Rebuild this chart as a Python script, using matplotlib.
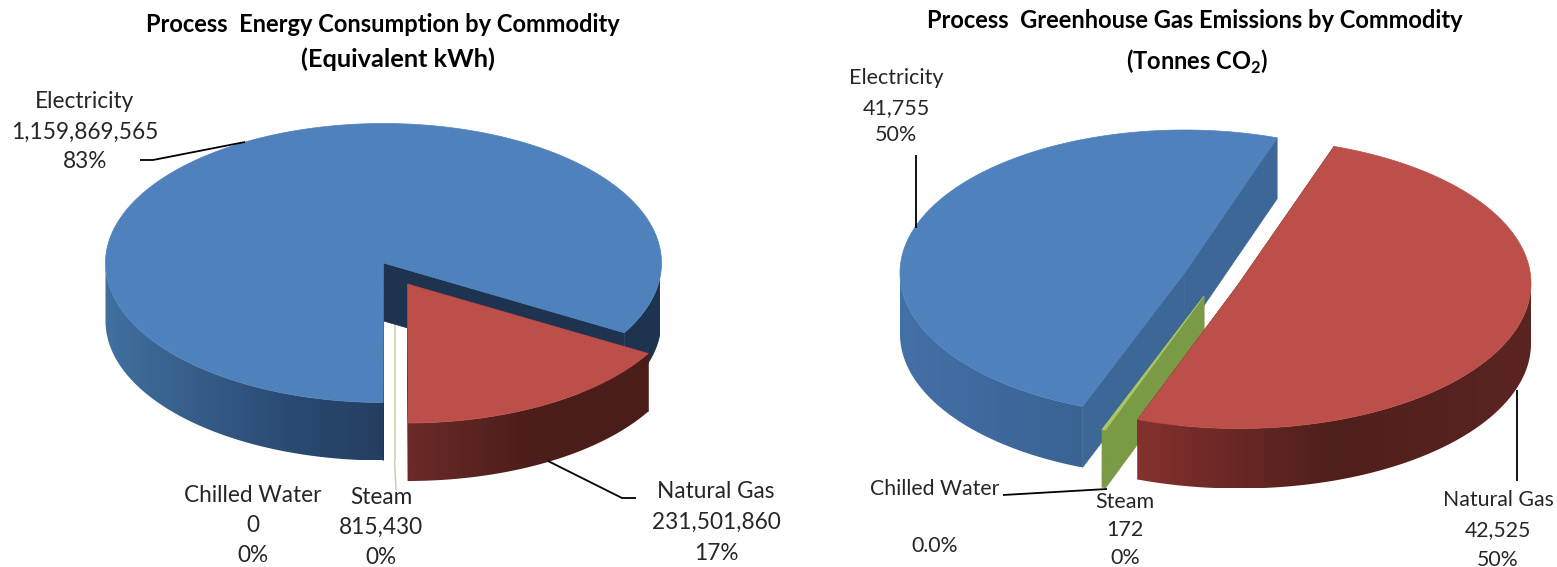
import numpy as np
import matplotlib
matplotlib.use("Agg")
import matplotlib.pyplot as plt
from matplotlib.colors import LinearSegmentedColormap
from matplotlib.patches import Polygon

plt.rcParams['font.family'] = ['Lato', 'DejaVu Sans']
plt.rcParams['mathtext.fontset'] = 'custom'
plt.rcParams['mathtext.bf'] = 'Lato:bold'
plt.rcParams['mathtext.rm'] = 'Lato'

commodities = ["Electricity", "Natural Gas", "Steam", "Chilled Water"]
energy_kwh = [1159869565, 231501860, 815430, 0]
energy_pct = ["83%", "17%", "0%", "0%"]
emissions_t = [41755, 42525, 172, 0]
emissions_pct = ["50%", "50%", "0%", "0.0%"]

TEXT = "#262626"


def slice_angles(values, start):
    """ clockwise from start, electricity wraps round to finish at start """
    total = sum(values)
    spans = [360.0 * v / total for v in values]
    angles = {}
    a = start
    for idx in [1, 2, 3, 0]:
        angles[idx] = (a - spans[idx], a)
        a -= spans[idx]
    return angles


def rim(cx, cy, rx, ry, t):
    t = np.radians(t)
    return cx + rx * np.cos(t), cy - ry * np.sin(t)


def draw_wall(ax, t0, t1, cx, cy, rx, ry, depth, cmap, wall_x, z):
    # one continuous run of the front wall, gradient image clipped to it
    ts = np.linspace(t0, t1, max(int((t1 - t0) * 2), 2) + 1)
    xs, ys = rim(cx, cy, rx, ry, ts)
    outline = list(zip(xs, ys)) + list(zip(xs[::-1], ys[::-1] + depth))
    clip = Polygon(outline, transform=ax.transData, fc='none', ec='none')
    grad = np.linspace(0, 1, 256).reshape(1, -1)
    im = ax.imshow(grad, extent=(wall_x[0], wall_x[1], ys.max() + depth, ys.min()),
                   aspect='auto', cmap=cmap, vmin=0, vmax=1, zorder=z, interpolation='bilinear')
    im.set_clip_path(clip)


def draw_slice(ax, a0, a1, cx, cy, rx, ry, depth, top, cut, wall, wall_x, z):
    # cut faces first, the wall and top then paint over the hidden parts
    for a in (a0, a1):
        x, y = rim(cx, cy, rx, ry, a)
        ax.add_patch(Polygon([(cx, cy), (x, y), (x, y + depth), (cx, cy + depth)],
                             fc=cut, ec=cut, lw=0.5, zorder=z))
    cmap = LinearSegmentedColormap.from_list("w", wall)
    # walls only show where the rim faces the viewer, 180 to 360 degrees
    for k in (-2, -1, 0, 1):
        t0 = max(a0, 180 + 360 * k)
        t1 = min(a1, 360 + 360 * k)
        if t1 > t0:
            draw_wall(ax, t0, t1, cx, cy, rx, ry, depth, cmap, wall_x, z + 0.1)
    ts = np.linspace(a0, a1, max(int((a1 - a0) * 2), 2) + 1)
    xs, ys = rim(cx, cy, rx, ry, ts)
    pts = [(cx, cy)] + list(zip(xs, ys))
    ax.add_patch(Polygon(pts, fc=top, ec=top, lw=0.5, zorder=z + 0.2))


def label(ax, x, ys, lines, size):
    for y, line in zip(ys, lines):
        ax.text(x, y, line, ha='center', va='center', fontsize=size, color=TEXT, zorder=10)


def leader(ax, xs, ys, color='black', lw=1.3, z=9):
    ax.plot(xs, ys, color=color, lw=lw, solid_capstyle='butt', zorder=z)


fig = plt.figure(figsize=(15.57, 5.67), dpi=100)
ax = fig.add_axes([0, 0, 1, 1])

# left pie, energy
ang = slice_angles(energy_kwh, -30)
navy = "#1d3350"
draw_slice(ax, *ang[2], 395, 262, 278, 140, 58, "#d5dcbc", "#d5dcbc", ["#d5dcbc", "#d5dcbc"], (300, 500), 1)
draw_slice(ax, *ang[0], 383.5, 263, 278, 139.5, 58, "#4f81bd", navy,
           ["#41709f", "#2a4a72", navy, navy], (105, 660), 2)
draw_slice(ax, *ang[1], 407.5, 284, 278, 139, 58, "#bd4f4b", "#4a1c1a",
           ["#6d2c29", "#4d1e1b", "#4a1c1a"], (400, 650), 3)
leader(ax, [394.5, 396], [460, 490], color="#c3cda6", lw=1.0, z=1)

leader(ax, [140, 153, 245], [160, 160, 142])
leader(ax, [548, 622, 636], [461, 498, 498])

ax.text(383, 25, "Process  Energy Consumption by Commodity", ha='center', va='center',
        fontsize=17, fontweight='bold', color="black")
ax.text(398, 59, "(Equivalent kWh)", ha='center', va='center',
        fontsize=18.3, fontweight='bold', color="black")

label(ax, 85, [101, 132, 162], [commodities[0], f"{energy_kwh[0]:,}", energy_pct[0]], 16.3)
label(ax, 716, [492, 522, 553], [commodities[1], f"{energy_kwh[1]:,}", energy_pct[1]], 16.3)
label(ax, 381, [497, 527, 557], [commodities[2], f"{energy_kwh[2]:,}", energy_pct[2]], 16.3)
label(ax, 253, [496, 525, 556], [commodities[3], f"{energy_kwh[3]:,}", energy_pct[3]], 16.3)

# right pie, emissions
ang = slice_angles(emissions_t, 71)
draw_slice(ax, *ang[0], 1184.5, 273, 284.5, 143, 61, "#4f81bd", "#3c6797",
           ["#4470a8", "#3a6292"], (898, 1095), 2)
draw_slice(ax, *ang[2], 1204, 296, 284.5, 143, 58, "#a9c66a", "#7a9a45",
           ["#7a9a45", "#7a9a45"], (1100, 1210), 3)
draw_slice(ax, *ang[1], 1239, 283.5, 292, 145, 60, "#bd4f4b", "#4a1c1a",
           ["#86322e", "#4f1f1c", "#5a2422"], (1130, 1531), 4)

leader(ax, [916, 916], [155, 228])
leader(ax, [1517, 1517], [390, 481])
leader(ax, [1003, 1107], [495, 489])

ax.text(1195, 21, "Process  Greenhouse Gas Emissions by Commodity", ha='center', va='center',
        fontsize=17, fontweight='bold', color="black")
ax.text(1197, 62, r"(Tonnes CO$_{\mathbf{2}}$)", ha='center', va='center',
        fontsize=17, fontweight='bold', color="black")

label(ax, 896, [78, 108, 135], [commodities[0], f"{emissions_t[0]:,}", emissions_pct[0]], 15.5)
label(ax, 1498, [500, 530, 560], [commodities[1], f"{emissions_t[1]:,}", emissions_pct[1]], 15.3)
label(ax, 1125, [502, 530, 558], [commodities[2], f"{emissions_t[2]:,}", emissions_pct[2]], 15.5)
label(ax, 935, [489, 546], [commodities[3], emissions_pct[3]], 15.3)

# imshow resets the limits, so set them after the slices
ax.set_xlim(0, 1557)
ax.set_ylim(567, 0)
ax.axis('off')

fig.savefig("out.png", dpi=100)
